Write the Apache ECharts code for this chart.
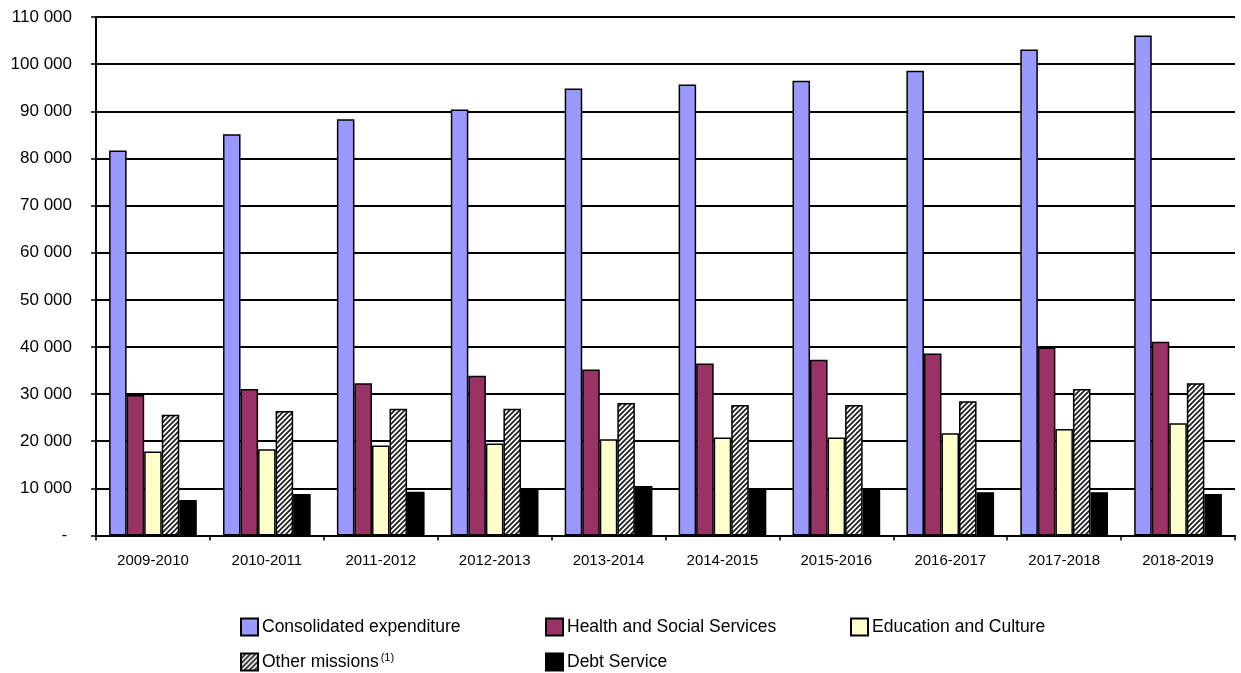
<!DOCTYPE html>
<html>
<head>
<meta charset="utf-8">
<script src="https://cdn.jsdelivr.net/npm/echarts@6/dist/echarts.min.js"></script>
<style>
  html, body { margin: 0; padding: 0; background: #fff; }
  #chart { width: 1241px; height: 673px; }
</style>
</head>
<body>
<div id="chart"></div>
<script>
// data
var categories = ['2009-2010', '2010-2011', '2011-2012', '2012-2013', '2013-2014',
                  '2014-2015', '2015-2016', '2016-2017', '2017-2018', '2018-2019'];
var consolidated = [81700, 85100, 88300, 90350, 94850, 95700, 96500, 98600, 103100, 106100];
var health = [29800, 31100, 32300, 33900, 35200, 36500, 37300, 38600, 39900, 41100];
var education = [17800, 18300, 19100, 19500, 20400, 20800, 20800, 21700, 22600, 23800];
var otherMissions = [25600, 26400, 26900, 26900, 28100, 27700, 27700, 28500, 31100, 32300];
var debt = [7550, 8800, 9300, 10000, 10500, 9900, 9900, 9200, 9200, 8800];

var seriesNames = ['Consolidated expenditure', 'Health and Social Services',
                   'Education and Culture', 'Other missions', 'Debt Service'];

// diagonal hatching for "Other missions"
function makeHatch() {
    var c = document.createElement('canvas');
    c.width = 5;
    c.height = 5;
    var ctx = c.getContext('2d');
    ctx.fillStyle = '#fff';
    ctx.fillRect(0, 0, 5, 5);
    ctx.strokeStyle = '#222';
    ctx.lineWidth = 1.8;
    ctx.beginPath();
    ctx.moveTo(-1, 6); ctx.lineTo(6, -1);
    ctx.moveTo(-4, 4); ctx.lineTo(4, -4);
    ctx.moveTo(1, 9); ctx.lineTo(9, 1);
    ctx.stroke();
    return c;
}

var chartDom = document.getElementById('chart');
var myChart = echarts.init(chartDom);

var font = 'Liberation Sans, Arial, sans-serif';

function fmt(v) {
    if (v === 0) return '- ';
    return String(v).replace(/\B(?=(\d{3})+(?!\d))/g, ' ');
}

function barSeries(name, data, color) {
    return {
        name: name,
        type: 'bar',
        data: data,
        barGap: '0%',
        barCategoryGap: '23%',
        itemStyle: {
            color: color,
            borderColor: '#000',
            borderWidth: 1.5
        }
    };
}

var option = {
    animation: false,
    textStyle: { fontFamily: font },
    grid: {
        left: 96,
        right: 6,
        top: 17,
        bottom: 137.5,
        containLabel: false
    },
    legend: {
        data: seriesNames,
        left: 240,
        top: 617,
        width: 960,
        padding: 0,
        itemWidth: 17,
        itemHeight: 17,
        itemGap: 15,
        icon: 'rect',
        textStyle: {
            fontFamily: font,
            fontSize: 17.5,
            color: '#000',
            width: 268,
            lineHeight: 20,
            padding: [0, 0, 0, -1],
            rich: {
                sup: { fontSize: 11, verticalAlign: 'top', lineHeight: 14, color: '#000', padding: [0, 0, 0, 2] }
            }
        },
        formatter: function (name) {
            if (name === 'Other missions') return 'Other missions{sup|(1)}';
            return name;
        }
    },
    xAxis: {
        type: 'category',
        data: categories,
        axisLine: { lineStyle: { color: '#000', width: 2 } },
        axisTick: { show: true, length: 5, lineStyle: { color: '#000', width: 1.5 } },
        axisLabel: { color: '#000', fontSize: 15, margin: 18, fontFamily: font }
    },
    yAxis: {
        type: 'value',
        min: 0,
        max: 110000,
        interval: 10000,
        axisLine: { show: true, lineStyle: { color: '#000', width: 2 } },
        axisTick: { show: true, length: 5, lineStyle: { color: '#000', width: 1.5 } },
        axisLabel: { color: '#000', fontSize: 17, margin: 24, fontFamily: font, formatter: fmt },
        splitLine: { show: true, lineStyle: { color: '#000', width: 2 } }
    },
    series: [
        barSeries(seriesNames[0], consolidated, '#9999FF'),
        barSeries(seriesNames[1], health, '#993366'),
        barSeries(seriesNames[2], education, '#FFFFCC'),
        barSeries(seriesNames[3], otherMissions, { image: makeHatch(), repeat: 'repeat' }),
        barSeries(seriesNames[4], debt, '#000000')
    ]
};

myChart.setOption(option);
</script>
</body>
</html>
